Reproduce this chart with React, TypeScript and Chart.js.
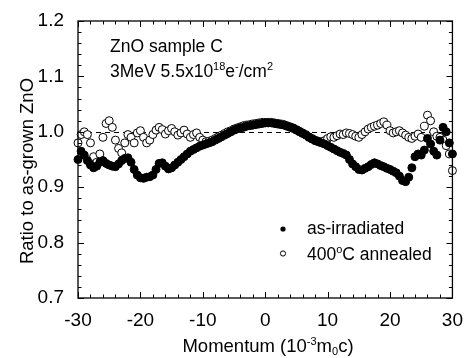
import React, { useEffect, useRef } from "react";
import { Chart, registerables } from "chart.js";

Chart.register(...registerables);

// Momentum axis positions (10^-3 m0 c)
const momentum = [
  -30, -29.5, -29, -28.5, -28, -27.5, -27, -26.5, -26, -25.5,
  -25, -24.5, -24, -23.5, -23, -22.5, -22, -21.5, -21, -20.5,
  -20, -19.5, -19, -18.5, -18, -17.5, -17, -16.5, -16, -15.5,
  -15, -14.5, -14, -13.5, -13, -12.5, -12, -11.5, -11, -10.5,
  -10, -9.5, -9, -8.5, -8, -7.5, -7, -6.5, -6, -5.5,
  -5, -4.5, -4, -3.5, -3, -2.5, -2, -1.5, -1, -0.5,
  0, 0.5, 1, 1.5, 2, 2.5, 3, 3.5, 4, 4.5,
  5, 5.5, 6, 6.5, 7, 7.5, 8, 8.5, 9, 9.5,
  10, 10.5, 11, 11.5, 12, 12.5, 13, 13.5, 14, 14.5,
  15, 15.5, 16, 16.5, 17, 17.5, 18, 18.5, 19, 19.5,
  20, 20.5, 21, 21.5, 22, 22.5, 23, 23.5, 24, 24.5,
  25, 25.5, 26, 26.5, 27, 27.5, 28, 28.5, 29, 29.5,
  30,
];

const asIrradiated = [
  0.950, 0.965, 0.958, 0.948, 0.940, 0.935, 0.938, 0.945, 0.948, 0.943,
  0.940, 0.938, 0.937, 0.942, 0.948, 0.952, 0.953, 0.945, 0.932, 0.922,
  0.917, 0.916, 0.918, 0.919, 0.922, 0.932, 0.943, 0.944, 0.938, 0.933,
  0.935, 0.940, 0.945, 0.950, 0.955, 0.960, 0.965, 0.968, 0.971, 0.974,
  0.976, 0.978, 0.980, 0.982, 0.985, 0.988, 0.991, 0.994, 0.997, 1.000,
  1.003, 1.005, 1.007, 1.008, 1.010, 1.011, 1.012, 1.013, 1.014, 1.015,
  1.016, 1.016, 1.016, 1.015, 1.014, 1.013, 1.012, 1.010, 1.008, 1.006,
  1.003, 1.000, 0.997, 0.994, 0.990, 0.987, 0.984, 0.982, 0.980, 0.978,
  0.975, 0.972, 0.969, 0.966, 0.963, 0.961, 0.958, 0.950, 0.942, 0.937,
  0.932, 0.931, 0.934, 0.937, 0.941, 0.944, 0.942, 0.939, 0.937, 0.934,
  0.932, 0.929, 0.926, 0.920, 0.912, 0.910, 0.918, 0.935, 0.955, 0.960,
  0.958, 0.967, 0.988, 0.978, 0.965, 0.958, 0.985, 1.008, 1.000, 0.980,
  0.960,
];

const annealed400 = [
  0.980, 0.995, 1.000, 0.995, 0.980, 0.955, 0.945, 0.960, 0.990, 1.015,
  1.020, 1.008, 0.985, 0.970, 0.962, 0.980, 0.995, 0.990, 0.980, 0.998,
  1.002, 0.990, 0.980, 0.985, 0.995, 1.003, 1.008, 1.004, 0.996, 1.002,
  1.006, 1.000, 0.994, 0.998, 1.003, 0.996, 0.990, 0.995, 0.998, 0.990,
  0.985, 0.982, 0.983, 0.985, 0.988, 0.991, 0.994, 0.997, 1.000, 1.002,
  1.005, 1.007, 1.009, 1.011, 1.012, 1.013, 1.014, 1.015, 1.016, 1.017,
  1.017, 1.017, 1.017, 1.016, 1.015, 1.014, 1.013, 1.011, 1.009, 1.007,
  1.004, 1.001, 0.998, 0.995, 0.991, 0.988, 0.985, 0.983, 0.982, 0.984,
  0.988, 0.991, 0.990, 0.993, 0.996, 0.995, 0.998, 0.997, 0.995, 0.992,
  0.990, 0.995, 1.000, 1.005, 1.008, 1.010, 1.012, 1.015, 1.018, 1.012,
  1.002, 0.998, 1.000, 1.002, 0.998, 0.994, 0.990, 0.988, 0.992, 0.996,
  0.990, 1.010, 1.030, 1.020, 1.000, 0.992, 0.990, 0.985, 0.975, 0.960,
  0.930,
];

const xMin = -30;
const xMax = 30;
const xMajor = 10;
const xMinor = 2;
const yMin = 0.7;
const yMax = 1.2;
const yMajor = 0.1;
const yMinor = 0.02;
const referenceLevel = 1.0;

const FONT = '"Liberation Sans", Arial, Helvetica, sans-serif';

type Seg = { t: string; s?: "sup" | "sub" };

function drawRich(
  ctx: CanvasRenderingContext2D,
  segs: Seg[],
  x: number,
  y: number,
  size: number,
  align: "left" | "center"
) {
  const small = Math.round(size * 0.62);
  const widths = segs.map((sg) => {
    ctx.font = `${sg.s ? small : size}px ${FONT}`;
    return ctx.measureText(sg.t).width;
  });
  const total = widths.reduce((a, b) => a + b, 0);
  let cx = align === "center" ? x - total / 2 : x;
  ctx.textAlign = "left";
  ctx.textBaseline = "alphabetic";
  segs.forEach((sg, i) => {
    ctx.font = `${sg.s ? small : size}px ${FONT}`;
    const dy = sg.s === "sup" ? -size * 0.4 : sg.s === "sub" ? size * 0.18 : 0;
    ctx.fillText(sg.t, cx, y + dy);
    cx += widths[i];
  });
}

const decorPlugin = {
  id: "decor",
  beforeDatasetsDraw(chart: any) {
    const { ctx, chartArea: a, scales } = chart;
    const yy = Math.round(scales.y.getPixelForValue(referenceLevel)) + 0.5;
    ctx.save();
    ctx.strokeStyle = "#000";
    ctx.lineWidth = 1;
    ctx.setLineDash([5, 4]);
    ctx.beginPath();
    ctx.moveTo(a.left, yy);
    ctx.lineTo(a.right, yy);
    ctx.stroke();
    ctx.restore();
  },
  afterDraw(chart: any) {
    const { ctx, chartArea: a, scales } = chart;
    const xs = scales.x;
    const ys = scales.y;
    ctx.save();
    ctx.strokeStyle = "#000";
    ctx.fillStyle = "#000";
    ctx.lineWidth = 1.3;
    ctx.setLineDash([]);
    ctx.strokeRect(a.left, a.top, a.right - a.left, a.bottom - a.top);

    ctx.lineWidth = 1;
    ctx.beginPath();
    const nx = Math.round((xMax - xMin) / xMinor);
    for (let i = 0; i <= nx; i++) {
      const v = xMin + i * xMinor;
      const px = Math.round(xs.getPixelForValue(v)) + 0.5;
      const major = Math.abs(v / xMajor - Math.round(v / xMajor)) < 1e-6;
      const len = major ? 6 : 3.5;
      ctx.moveTo(px, a.bottom);
      ctx.lineTo(px, a.bottom - len);
      ctx.moveTo(px, a.top);
      ctx.lineTo(px, a.top + len);
    }
    const ny = Math.round((yMax - yMin) / yMinor);
    for (let i = 0; i <= ny; i++) {
      const v = yMin + i * yMinor;
      const py = Math.round(ys.getPixelForValue(v)) + 0.5;
      const major = i % Math.round(yMajor / yMinor) === 0;
      const len = major ? 6 : 3.5;
      ctx.moveTo(a.left, py);
      ctx.lineTo(a.left + len, py);
      ctx.moveTo(a.right, py);
      ctx.lineTo(a.right - len, py);
    }
    ctx.stroke();

    // annotation
    drawRich(ctx, [{ t: "ZnO sample C" }], 110, 52, 17.5, "left");
    drawRich(
      ctx,
      [
        { t: "3MeV 5.5x10" },
        { t: "18", s: "sup" },
        { t: "e" },
        { t: "-", s: "sup" },
        { t: "/cm" },
        { t: "2", s: "sup" },
      ],
      110,
      77,
      17.5,
      "left"
    );

    // legend
    ctx.beginPath();
    ctx.arc(283, 229, 2.6, 0, Math.PI * 2);
    ctx.fill();
    drawRich(ctx, [{ t: "as-irradiated" }], 307, 234, 17.5, "left");
    ctx.beginPath();
    ctx.lineWidth = 1;
    ctx.arc(283, 253.5, 2.6, 0, Math.PI * 2);
    ctx.fillStyle = "#fff";
    ctx.fill();
    ctx.stroke();
    ctx.fillStyle = "#000";
    drawRich(
      ctx,
      [{ t: "400" }, { t: "o", s: "sup" }, { t: "C annealed" }],
      307,
      260,
      17.5,
      "left"
    );

    // axis titles
    drawRich(
      ctx,
      [
        { t: "Momentum (10" },
        { t: "-3", s: "sup" },
        { t: "m" },
        { t: "0", s: "sub" },
        { t: "c)" },
      ],
      268,
      352,
      18.5,
      "center"
    );
    ctx.save();
    ctx.translate(33, 171);
    ctx.rotate(-Math.PI / 2);
    drawRich(ctx, [{ t: "Ratio to as-grown ZnO" }], 0, 0, 18.5, "center");
    ctx.restore();

    ctx.restore();
  },
};

export default function App() {
  const ref = useRef<HTMLCanvasElement | null>(null);
  useEffect(() => {
    if (!ref.current) return;
    const chart = new Chart(ref.current, {
      type: "scatter",
      data: {
        datasets: [
          {
            label: "as-irradiated",
            data: momentum.map((x, i) => ({ x, y: asIrradiated[i] })),
            pointRadius: 4,
            pointBorderWidth: 1,
            pointBackgroundColor: "#000",
            pointBorderColor: "#000",
            showLine: false,
            clip: false as any,
          },
          {
            label: "400°C annealed",
            data: momentum.map((x, i) => ({ x, y: annealed400[i] })),
            pointRadius: 4,
            pointBorderWidth: 1,
            pointBackgroundColor: "#fff",
            pointBorderColor: "#000",
            showLine: false,
            clip: false as any,
          },
        ],
      },
      options: {
        responsive: false,
        animation: false,
        events: [],
        layout: { padding: { top: 21, right: 12, left: 0, bottom: 0 } },
        plugins: {
          legend: { display: false },
          tooltip: { enabled: false },
          title: { display: false },
        },
        scales: {
          x: {
            type: "linear",
            min: xMin,
            max: xMax,
            grid: { display: false },
            border: { display: false },
            ticks: {
              stepSize: xMajor,
              color: "#000",
              padding: 3,
              maxRotation: 0,
              font: { family: FONT, size: 19 },
              callback: (v: any) => String(v),
            },
            afterFit: (s: any) => {
              s.height = 60;
            },
          },
          y: {
            type: "linear",
            min: yMin,
            max: yMax,
            grid: { display: false },
            border: { display: false },
            ticks: {
              stepSize: yMajor,
              color: "#000",
              padding: 6,
              font: { family: FONT, size: 19 },
              callback: (v: any) => Number(v).toFixed(1),
            },
            afterFit: (s: any) => {
              s.width = 78;
            },
          },
        },
      },
      plugins: [decorPlugin],
    });
    return () => chart.destroy();
  }, []);
  return (
    <div style={{ position: "fixed", left: 0, top: 0, width: 466, height: 358, background: "#fff" }}>
      <canvas ref={ref} width={466} height={358} style={{ width: 466, height: 358, display: "block" }} />
    </div>
  );
}
